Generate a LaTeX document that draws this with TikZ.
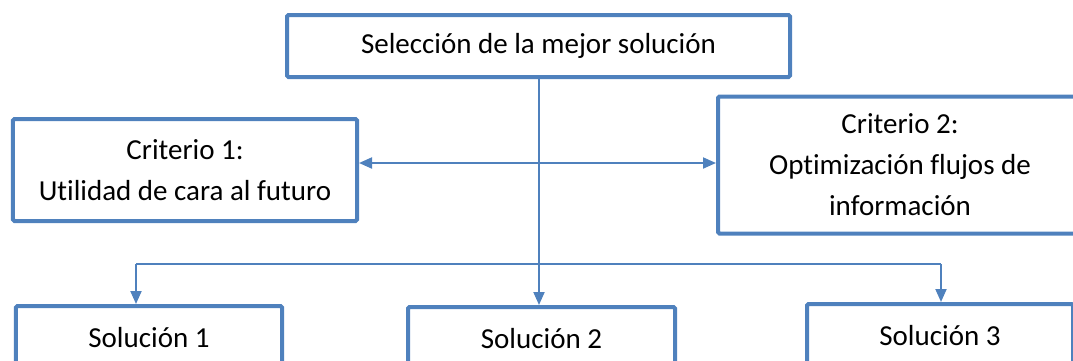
\documentclass[tikz,border=0pt]{standalone}
\usepackage{fontspec}
\setmainfont[Ligatures=NoCommon]{Carlito}
\usetikzlibrary{arrows.meta}
\definecolor{boxblue}{HTML}{4F81BD}
\tikzset{
  box/.style={draw=boxblue, line width=4bp, rounded corners=1.5bp, align=center,
    font=\fontsize{29bp}{41bp}\selectfont, inner sep=0pt},
  conn/.style={draw=boxblue, line width=2bp},
  arr/.style={conn, -{Triangle[length=13bp,width=11bp]}},
  darr/.style={conn, {Triangle[length=13bp,width=11bp]}-{Triangle[length=13bp,width=11bp]}}
}
\begin{document}
\begin{tikzpicture}[x=1bp,y=-1bp]
\useasboundingbox (0,0) rectangle (1073,360);
\node[box, minimum width=503bp, minimum height=62bp] (top) at (538.5,46) {Selección de la mejor solución};
\node[box, minimum width=344bp, minimum height=102bp] (c1) at (185,170) {Criterio 1:\\Utilidad de cara al futuro};
\node[box, minimum width=364bp, minimum height=137bp] (c2) at (900,165) {Criterio 2:\\Optimización flujos de\\información};
\node[box, minimum width=266bp, minimum height=64bp] (s1) at (149,338) {Solución 1};
\node[box, minimum width=267bp, minimum height=64bp] (s2) at (541.5,339) {Solución 2};
\node[box, minimum width=266bp, minimum height=64bp] (s3) at (940,336) {Solución 3};
\coordinate (mid) at (539,163);
\coordinate (j) at (539,264);
\coordinate (jl) at (136,264);
\coordinate (jr) at (941,264);
\draw[conn] (top.south -| mid) -- (j);
\draw[darr] (c1.east |- mid) -- (c2.west |- mid);
\draw[conn] (jl) -- (jr);
\draw[arr] (jl) -- (jl |- s1.north);
\draw[arr] (j) -- (j |- s2.north);
\draw[arr] (jr) -- (jr |- s3.north);
\end{tikzpicture}
\end{document}
